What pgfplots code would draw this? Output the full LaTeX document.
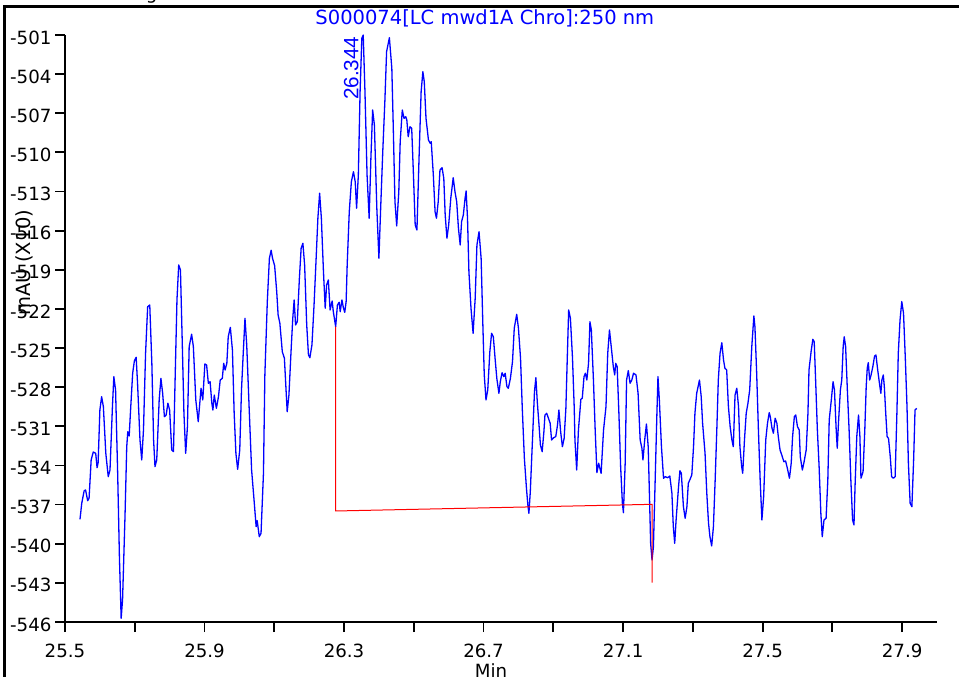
\documentclass[border=0pt]{standalone}
\usepackage{fontspec}
\setmainfont{DejaVu Sans}
\newfontfamily\rotfont{Liberation Sans}
\usepackage{pgfplots}
\usepackage{pgfplotstable}
\pgfplotsset{compat=1.18}
\pgfplotstableread{
x y
25.543 -538.13
25.548 -536.90
25.555 -535.93
25.559 -535.88
25.565 -536.70
25.569 -536.52
25.575 -533.58
25.581 -532.97
25.588 -533.07
25.592 -534.17
25.595 -533.79
25.600 -529.75
25.605 -528.73
25.610 -529.49
25.617 -533.07
25.624 -534.86
25.629 -534.35
25.636 -529.49
25.640 -527.19
25.645 -528.21
25.651 -534.60
25.656 -540.99
25.661 -545.72
25.665 -544.31
25.672 -537.93
25.677 -532.56
25.680 -531.41
25.684 -531.74
25.688 -529.75
25.694 -526.93
25.699 -525.97
25.704 -525.71
25.708 -527.70
25.715 -532.05
25.720 -533.58
25.725 -531.28
25.731 -525.40
25.737 -521.83
25.743 -521.70
25.749 -526.17
25.754 -532.05
25.758 -534.09
25.763 -533.58
25.770 -528.98
25.775 -527.32
25.780 -528.47
25.785 -530.26
25.790 -530.13
25.795 -529.23
25.800 -529.75
25.806 -532.81
25.811 -532.94
25.815 -528.21
25.821 -521.31
25.826 -518.63
25.831 -519.01
25.836 -524.38
25.841 -530.00
25.846 -533.07
25.851 -531.03
25.856 -524.89
25.863 -523.94
25.868 -524.89
25.875 -528.98
25.882 -530.64
25.890 -528.08
25.895 -528.98
25.901 -526.22
25.906 -526.30
25.911 -527.70
25.916 -527.58
25.921 -529.23
25.924 -529.75
25.928 -528.60
25.934 -529.62
25.940 -528.73
25.945 -527.45
25.951 -527.32
25.955 -526.17
25.959 -526.68
25.964 -526.17
25.968 -524.13
25.974 -523.41
25.980 -525.15
25.985 -530.00
25.990 -533.07
25.995 -534.29
26.001 -532.81
26.006 -528.21
26.011 -525.40
26.016 -522.72
26.021 -524.76
26.028 -529.62
26.035 -534.35
26.042 -536.65
26.048 -538.69
26.051 -538.23
26.057 -539.46
26.062 -539.20
26.069 -534.60
26.073 -527.06
26.080 -521.44
26.086 -518.12
26.091 -517.50
26.095 -518.12
26.101 -518.68
26.107 -520.68
26.111 -522.46
26.116 -523.10
26.123 -525.28
26.129 -525.78
26.134 -528.34
26.137 -529.88
26.142 -528.60
26.148 -525.28
26.153 -522.72
26.157 -521.31
26.161 -523.23
26.166 -522.98
26.172 -519.65
26.177 -517.35
26.182 -516.97
26.187 -518.63
26.193 -523.23
26.198 -525.53
26.202 -525.74
26.208 -524.76
26.214 -521.70
26.220 -518.12
26.225 -515.05
26.230 -513.13
26.235 -515.05
26.241 -519.14
26.246 -521.95
26.250 -520.16
26.255 -519.78
26.260 -522.08
26.266 -521.39
26.269 -522.16
26.276 -523.36
26.281 -521.70
26.286 -521.49
26.289 -522.21
26.294 -521.31
26.298 -521.90
26.302 -522.26
26.306 -521.44
26.309 -518.63
26.315 -514.55
26.321 -512.25
26.327 -511.48
26.332 -512.25
26.336 -514.28
26.341 -511.73
26.346 -505.35
26.351 -501.25
26.355 -501.00
26.360 -505.35
26.366 -511.73
26.372 -515.05
26.377 -510.45
26.382 -506.75
26.387 -507.90
26.394 -514.28
26.400 -518.12
26.405 -514.28
26.411 -509.95
26.417 -506.11
26.422 -502.28
26.430 -501.21
26.437 -503.55
26.441 -507.90
26.446 -513.78
26.451 -515.64
26.457 -513.01
26.461 -509.18
26.467 -506.75
26.472 -507.39
26.477 -507.26
26.480 -507.52
26.484 -508.80
26.489 -508.03
26.494 -508.15
26.499 -511.73
26.504 -515.57
26.509 -515.95
26.515 -510.45
26.521 -505.35
26.526 -503.81
26.530 -504.58
26.535 -507.39
26.542 -509.05
26.547 -509.30
26.550 -509.18
26.556 -511.73
26.561 -514.55
26.565 -515.05
26.570 -513.78
26.575 -511.35
26.581 -511.17
26.586 -511.99
26.590 -514.80
26.595 -516.58
26.600 -515.57
26.606 -513.52
26.613 -511.94
26.618 -513.01
26.623 -513.78
26.628 -515.82
26.633 -517.10
26.637 -515.31
26.642 -514.80
26.647 -513.52
26.650 -512.96
26.654 -515.05
26.658 -519.14
26.664 -521.95
26.670 -523.87
26.676 -521.18
26.681 -517.10
26.687 -516.08
26.693 -518.12
26.698 -523.23
26.702 -527.06
26.707 -528.98
26.712 -528.21
26.718 -525.28
26.723 -523.87
26.728 -524.13
26.733 -525.78
26.738 -527.32
26.744 -528.47
26.748 -527.58
26.753 -526.89
26.758 -527.19
26.762 -526.93
26.767 -527.96
26.771 -528.08
26.777 -527.32
26.783 -526.04
26.788 -523.48
26.795 -522.41
26.800 -523.48
26.806 -525.78
26.811 -529.62
26.817 -533.45
26.823 -535.75
26.827 -537.03
26.830 -537.67
26.834 -536.01
26.840 -532.18
26.846 -528.34
26.850 -527.27
26.854 -529.11
26.859 -530.90
26.863 -532.43
26.868 -532.94
26.873 -531.41
26.876 -530.13
26.881 -530.00
26.886 -530.38
26.891 -530.77
26.895 -532.05
26.901 -531.87
26.907 -531.79
26.912 -530.90
26.916 -529.75
26.921 -531.41
26.926 -532.56
26.931 -531.92
26.936 -529.62
26.940 -525.78
26.944 -522.08
26.949 -522.72
26.955 -525.78
26.960 -529.62
26.962 -532.05
26.967 -534.35
26.972 -531.28
26.979 -528.93
26.983 -528.85
26.988 -527.19
26.992 -526.93
26.996 -527.45
27.001 -526.17
27.005 -522.98
27.009 -523.61
27.015 -527.45
27.020 -531.28
27.025 -534.55
27.030 -533.83
27.037 -534.60
27.044 -531.28
27.051 -529.49
27.056 -525.40
27.061 -523.61
27.066 -524.89
27.072 -526.43
27.076 -527.06
27.079 -526.17
27.083 -526.43
27.088 -530.00
27.093 -534.09
27.098 -536.90
27.101 -537.62
27.106 -533.83
27.110 -527.45
27.115 -526.73
27.120 -527.70
27.125 -527.45
27.130 -526.93
27.137 -527.06
27.143 -528.47
27.149 -532.05
27.154 -532.68
27.157 -533.58
27.162 -532.05
27.167 -530.82
27.172 -532.56
27.175 -535.63
27.179 -539.97
27.183 -541.25
27.187 -540.23
27.192 -535.11
27.197 -530.00
27.200 -527.19
27.204 -528.98
27.210 -532.56
27.216 -534.98
27.221 -534.86
27.228 -534.94
27.234 -534.81
27.240 -536.13
27.244 -538.69
27.248 -539.97
27.252 -538.18
27.259 -535.63
27.263 -534.40
27.267 -534.60
27.273 -537.16
27.278 -538.05
27.283 -537.16
27.287 -535.37
27.292 -535.06
27.297 -534.73
27.302 -532.56
27.306 -530.00
27.311 -528.47
27.319 -527.45
27.324 -528.73
27.328 -530.77
27.335 -533.07
27.340 -536.13
27.345 -538.43
27.349 -539.46
27.354 -540.17
27.359 -538.69
27.364 -535.11
27.369 -531.03
27.373 -527.45
27.378 -525.40
27.383 -524.59
27.388 -525.92
27.392 -526.55
27.397 -526.68
27.402 -529.49
27.407 -531.03
27.412 -532.05
27.416 -532.56
27.421 -528.60
27.426 -528.08
27.431 -529.49
27.435 -532.56
27.440 -534.09
27.443 -534.60
27.448 -532.05
27.453 -530.00
27.458 -529.23
27.463 -528.21
27.469 -524.89
27.475 -522.54
27.478 -523.36
27.483 -526.93
27.488 -531.28
27.493 -535.11
27.498 -538.18
27.503 -536.39
27.509 -532.05
27.514 -530.77
27.519 -529.95
27.522 -530.26
27.527 -531.15
27.531 -531.53
27.536 -530.38
27.541 -530.77
27.545 -531.79
27.550 -532.81
27.555 -533.20
27.561 -533.71
27.566 -533.66
27.571 -534.22
27.577 -534.98
27.582 -533.83
27.586 -531.79
27.591 -530.26
27.595 -530.13
27.600 -531.03
27.605 -531.28
27.608 -533.33
27.614 -534.35
27.619 -533.71
27.625 -532.81
27.630 -530.00
27.633 -526.68
27.639 -525.28
27.644 -524.33
27.648 -524.51
27.652 -527.45
27.657 -531.28
27.662 -534.09
27.667 -537.67
27.671 -539.46
27.676 -538.18
27.682 -538.05
27.687 -535.11
27.691 -530.51
27.697 -528.98
27.702 -527.58
27.706 -528.21
27.711 -531.28
27.714 -532.68
27.718 -530.51
27.723 -528.21
27.727 -527.45
27.731 -524.89
27.734 -524.13
27.738 -524.89
27.743 -528.21
27.748 -531.28
27.753 -535.11
27.758 -538.18
27.762 -538.56
27.765 -535.63
27.770 -531.79
27.775 -530.13
27.779 -531.79
27.782 -534.98
27.788 -534.48
27.793 -531.28
27.797 -527.96
27.800 -526.55
27.803 -526.12
27.807 -527.45
27.811 -527.06
27.816 -526.43
27.821 -525.61
27.825 -525.53
27.830 -526.68
27.835 -527.70
27.839 -528.47
27.842 -527.45
27.846 -527.06
27.849 -527.96
27.853 -530.00
27.857 -531.79
27.861 -531.92
27.866 -533.33
27.870 -534.86
27.875 -534.98
27.880 -534.86
27.885 -530.00
27.889 -525.40
27.894 -522.85
27.899 -521.44
27.904 -522.33
27.909 -525.66
27.914 -529.49
27.918 -533.83
27.923 -536.90
27.928 -537.16
27.933 -533.58
27.937 -529.75
27.942 -529.62
}\trace
\begin{document}
\begin{tikzpicture}
\useasboundingbox (0pt,0pt) rectangle (959pt,677pt);
\clip (0pt,0pt) rectangle (959pt,677pt);
\draw[line width=2.5pt] (4.7pt,-20pt) -- (4.7pt,670.7pt) -- (990pt,670.7pt);
\node[anchor=base east, inner sep=0pt, font=\fontsize{18.2}{20}\selectfont] at (157.5pt,677.5pt) {ng};
\begin{axis}[
  at={(65pt,55pt)}, anchor=south west,
  scale only axis, width=872pt, height=587pt,
  xmin=25.5, xmax=28.0, ymin=-546, ymax=-501,
  clip=false,
  axis x line*=bottom, axis y line*=left,
  axis line style={-, line width=1.8pt, black},
  xtick={25.5,25.9,26.3,26.7,27.1,27.5,27.9},
  xticklabels={25.5,25.9,26.3,26.7,27.1,27.5,27.9},
  minor xtick={25.7,26.1,26.5,26.9,27.3,27.7},
  ytick={-546,-543,-540,-537,-534,-531,-528,-525,-522,-519,-516,-513,-510,-507,-504,-501},
  yticklabels={-546,-543,-540,-537,-534,-531,-528,-525,-522,-519,-516,-513,-510,-507,-504,-501},
  tick align=outside, major tick length=10pt, minor tick length=10pt,
  every tick/.style={black, line width=1.8pt},
  tick label style={font=\fontsize{18.2}{20}\selectfont},
  yticklabel style={yshift=-2.5pt},
  xticklabel style={yshift=-8pt},
  xlabel={Min},
  xlabel style={at={(axis description cs:0.4885,-0.083)}, anchor=center, font=\fontsize{18.2}{20}\selectfont},
  ylabel={mAU (X10)},
  ylabel style={at={(axis description cs:-0.0468,0.6124)}, anchor=center, font=\fontsize{19.5}{22}\selectfont},
  title={S000074[LC mwd1A Chro]:250 nm},
  title style={at={(axis description cs:0.4815,1.0077)}, anchor=base, text=blue, font=\fontsize{19.5}{22}\selectfont},
]
\addplot[blue, line width=1.3pt, line join=round] table[x=x, y=y] {\trace};
\addplot[red, line width=1pt] coordinates {(26.276,-523.36) (26.276,-537.49) (27.183,-536.98) (27.183,-542.99)};
\node[rotate=90, anchor=base, text=blue, inner sep=0pt, font=\rotfont\fontsize{20.7}{22}\selectfont] at (axis cs:26.341,-503.55) {26.344};
\end{axis}
\end{tikzpicture}
\end{document}
